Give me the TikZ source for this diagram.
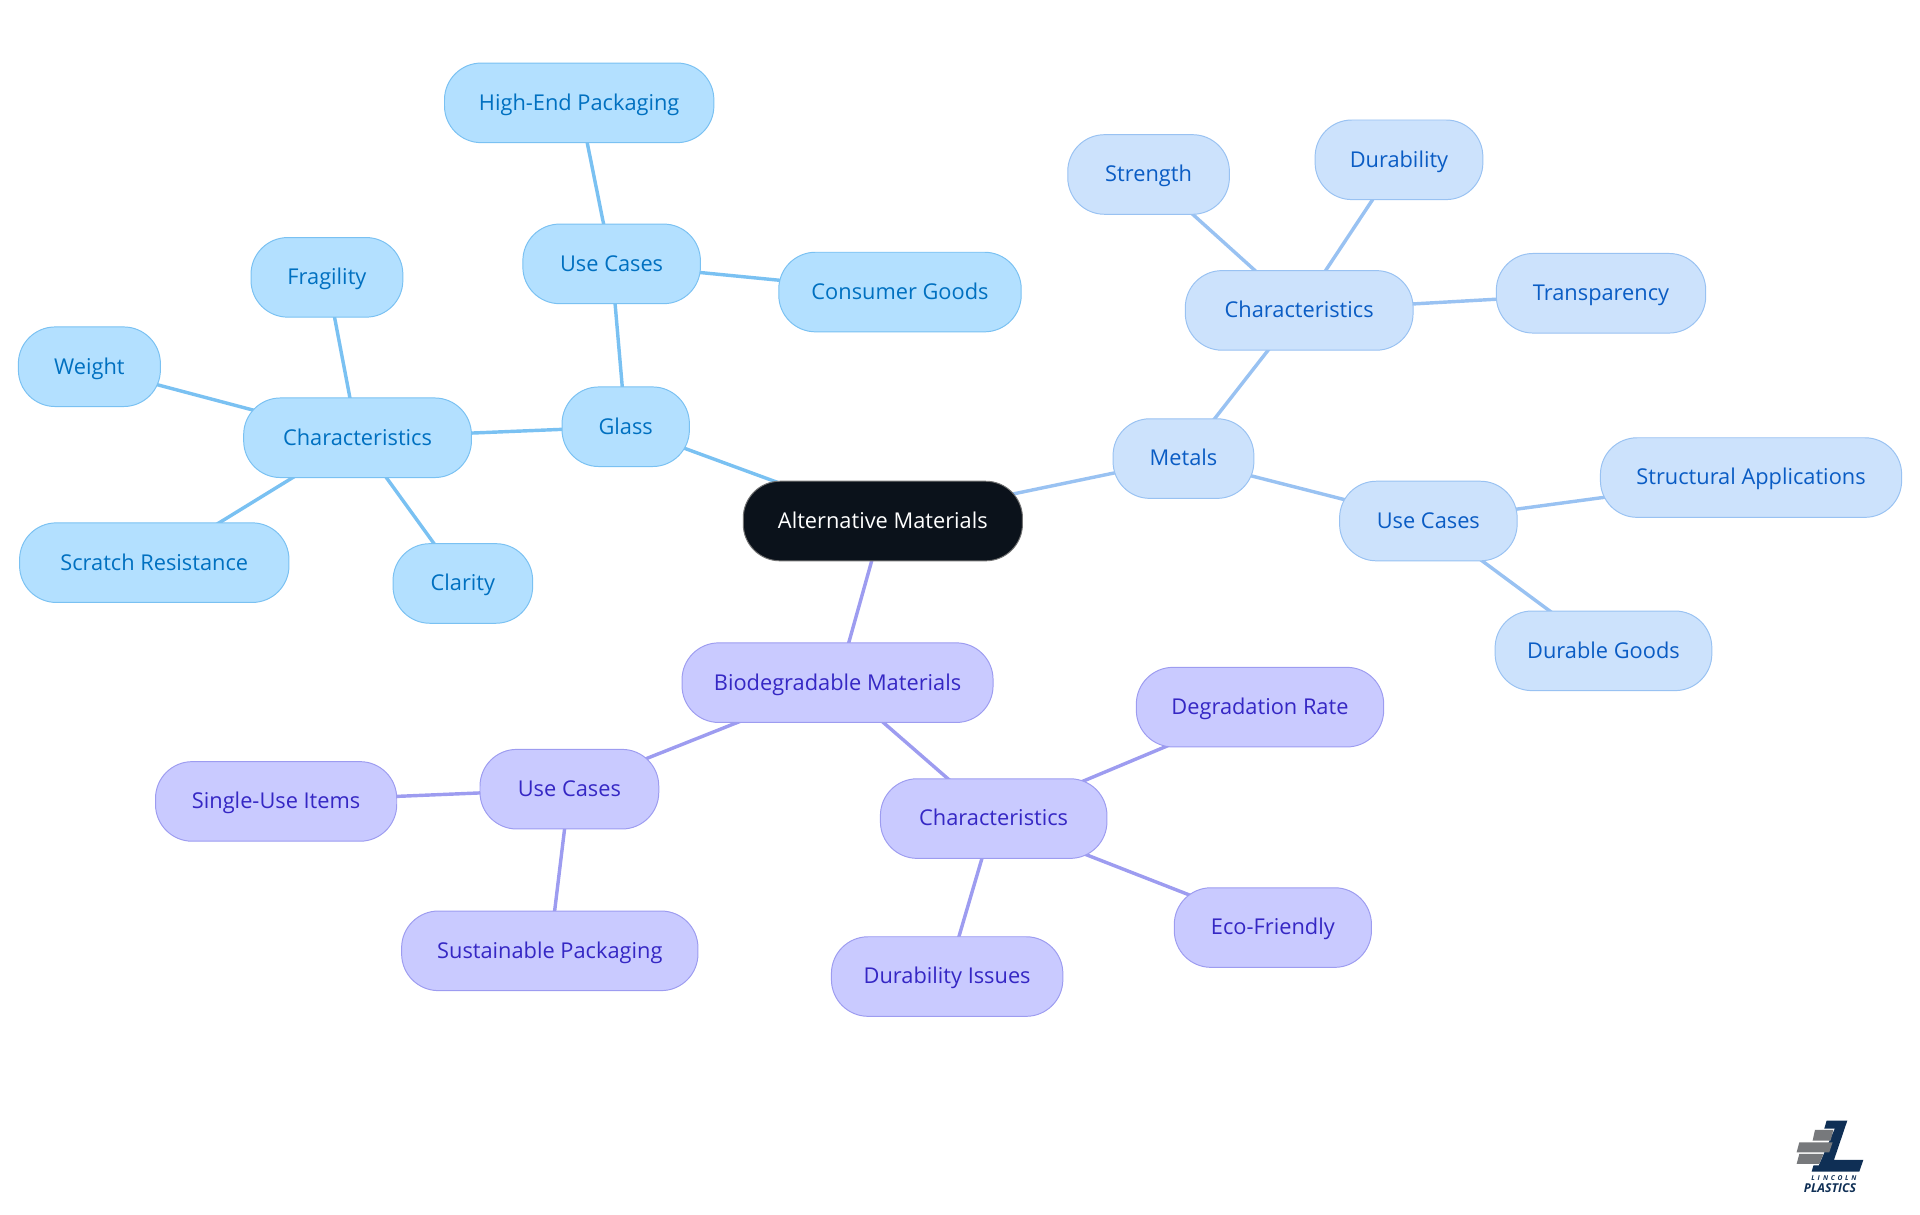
\documentclass[tikz,border=0pt]{standalone}
\usepackage{fontspec}
\setmainfont{Open Sans}
\usetikzlibrary{backgrounds}
\definecolor{gfill}{HTML}{B3E0FF}\definecolor{gline}{HTML}{7AC1F2}\definecolor{gtext}{HTML}{0070C0}
\definecolor{mfill}{HTML}{CCE2FC}\definecolor{mline}{HTML}{99C2F2}\definecolor{mtext}{HTML}{0A5CC4}
\definecolor{bfill}{HTML}{C9CAFF}\definecolor{bline}{HTML}{9D9CF0}\definecolor{btext}{HTML}{3527C4}
\definecolor{rootfill}{HTML}{0B121B}\definecolor{logoblue}{HTML}{0F2F55}\definecolor{logogrey}{HTML}{77797C}
\tikzset{
 mm/.style={rounded corners=30pt,line width=0.8pt,inner sep=0pt,minimum height=65pt,text height=15pt,text depth=3pt,font=\fontsize{17.8pt}{20pt}\selectfont},
 groot/.style={mm,draw=gline,fill=gfill,text=gtext},
 mroot/.style={mm,draw=mline,fill=mfill,text=mtext},
 broot/.style={mm,draw=bline,fill=bfill,text=btext},
 rootn/.style={mm,draw=black!55,fill=rootfill,text=white},
 gl/.style={draw=gline,line width=2.8pt},
 ml/.style={draw=mline,line width=2.8pt},
 bl/.style={draw=bline,line width=2.8pt},
}
\begin{document}
\begin{tikzpicture}[x=1pt,y=-1pt]
\useasboundingbox (0,0) rectangle (1568,992.25);
\node[rootn,minimum width=228pt] (root) at (721,425.5) {Alternative Materials};
% Glass
\node[groot,minimum width=104pt] (glass) at (511,348.5) {Glass};
\node[groot,minimum width=186pt] (gchar) at (292,357.5) {Characteristics};
\node[groot,minimum width=124pt] (frag) at (267,226.5) {Fragility};
\node[groot,minimum width=116pt] (weight) at (73,299.5) {Weight};
\node[groot,minimum width=220pt] (scratch) at (126,459.5) {Scratch Resistance};
\node[groot,minimum width=114pt] (clarity) at (378,476.5) {Clarity};
\node[groot,minimum width=145pt] (guse) at (499.5,215.5) {Use Cases};
\node[groot,minimum width=220pt] (high) at (473,84) {High-End Packaging};
\node[groot,minimum width=198pt] (consumer) at (735,238.5) {Consumer Goods};
% Metals
\node[mroot,minimum width=115pt] (metals) at (966.5,374.5) {Metals};
\node[mroot,minimum width=186pt] (mchar) at (1061,253.5) {Characteristics};
\node[mroot,minimum width=132pt] (strength) at (938,142.5) {Strength};
\node[mroot,minimum width=137pt] (dura) at (1142.5,130.5) {Durability};
\node[mroot,minimum width=171pt] (trans) at (1307.5,239.5) {Transparency};
\node[mroot,minimum width=145pt] (muse) at (1166.5,425.5) {Use Cases};
\node[mroot,minimum width=246pt] (struct) at (1430,390) {Structural Applications};
\node[mroot,minimum width=177pt] (goods) at (1309.5,531.5) {Durable Goods};
% Biodegradable
\node[broot,minimum width=254pt] (bio) at (684,557.5) {Biodegradable Materials};
\node[broot,minimum width=146pt] (buse) at (465,644.5) {Use Cases};
\node[broot,minimum width=197pt] (single) at (225.5,654.5) {Single-Use Items};
\node[broot,minimum width=242pt] (sustain) at (449,776.5) {Sustainable Packaging};
\node[broot,minimum width=185pt] (bchar) at (811.5,668.5) {Characteristics};
\node[broot,minimum width=202pt] (degr) at (1029,577.5) {Degradation Rate};
\node[broot,minimum width=161pt] (eco) at (1039.5,757.5) {Eco-Friendly};
\node[broot,minimum width=189pt] (issues) at (773.5,797.5) {Durability Issues};
\begin{scope}[on background layer]
\draw[gl] (root.center) -- (glass.center);
\draw[gl] (glass.center) -- (gchar.center);
\draw[gl] (gchar.center) -- (frag.center);
\draw[gl] (gchar.center) -- (weight.center);
\draw[gl] (gchar.center) -- (scratch.center);
\draw[gl] (gchar.center) -- (clarity.center);
\draw[gl] (glass.center) -- (guse.center);
\draw[gl] (guse.center) -- (high.center);
\draw[gl] (guse.center) -- (consumer.center);
\draw[ml] (root.center) -- (metals.center);
\draw[ml] (metals.center) -- (mchar.center);
\draw[ml] (mchar.center) -- (strength.center);
\draw[ml] (mchar.center) -- (dura.center);
\draw[ml] (mchar.center) -- (trans.center);
\draw[ml] (metals.center) -- (muse.center);
\draw[ml] (muse.center) -- (struct.center);
\draw[ml] (muse.center) -- (goods.center);
\draw[bl] (root.center) -- (bio.center);
\draw[bl] (bio.center) -- (buse.center);
\draw[bl] (buse.center) -- (single.center);
\draw[bl] (buse.center) -- (sustain.center);
\draw[bl] (bio.center) -- (bchar.center);
\draw[bl] (bchar.center) -- (degr.center);
\draw[bl] (bchar.center) -- (eco.center);
\draw[bl] (bchar.center) -- (issues.center);
\end{scope}
% logo
\begin{scope}[shift={(1437.3,898.3)},x=0.2722pt,y=-0.2722pt]
\fill[logoblue] (200,62) -- (262,62) -- (222,180) -- (310,180) -- (298,215) -- (155,215) -- cycle;
\fill[white] (158,86) -- (224,86) -- (176,196) -- (106,196) -- (114,124) -- (155,124) -- cycle;
\fill[logogrey] (165,90) -- (220,90) -- (212,122) -- (158,122) -- cycle;
\fill[logogrey] (118,127) -- (218,127) -- (208,157) -- (110,157) -- cycle;
\fill[logogrey] (118,162) -- (190,162) -- (178,192) -- (110,192) -- cycle;
\node[text=logoblue,inner sep=0pt,font=\fontsize{5.5pt}{6pt}\selectfont\bfseries\itshape] (ln) at (222,235) {L\hspace{2.2pt}I\hspace{2.6pt}N\hspace{2.2pt}C\hspace{2.2pt}O\hspace{2.2pt}L\hspace{2.2pt}N};
\node[text=logoblue,inner sep=0pt,font=\fontsize{10pt}{12pt}\selectfont\bfseries\itshape] (pl) at (210,265) {PLASTICS};
\end{scope}
\end{tikzpicture}
\end{document}
